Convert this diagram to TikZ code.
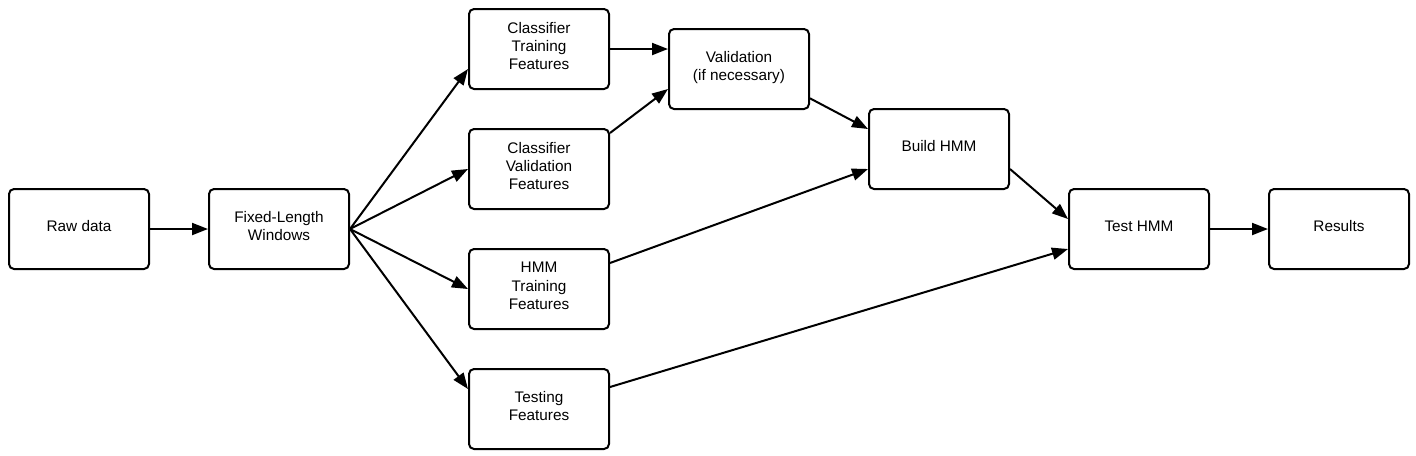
\documentclass[tikz,border=0pt]{standalone}
\usepackage{fontspec}
\setmainfont{Liberation Sans}
\usetikzlibrary{arrows.meta}
\tikzset{x=0.75pt, y=-0.75pt,
    stage/.style={draw, line width=1.5pt, rounded corners=3.75pt,
        minimum width=105pt, minimum height=60pt, inner sep=0pt,
        text depth=4.5pt, align=center,
        font=\fontsize{11.5}{13.75}\selectfont},
    flow/.style={line width=1.5pt, -{Triangle[length=12pt,width=9pt]}},
    }

\begin{document}
\begin{tikzpicture}
\useasboundingbox (0,0) rectangle (1416,455);
% stages
\node[stage] (raw) at (79,229) {Raw data};
\node[stage] (win) at (279,229) {Fixed-Length\\Windows};
\node[stage] (ctf) at (539,49) {Classifier\\Training\\Features};
\node[stage] (cvf) at (539,169) {Classifier\\Validation\\Features};
\node[stage] (htf) at (539,289) {HMM\\Training\\Features};
\node[stage] (tsf) at (539,409) {Testing\\Features};
\node[stage] (val) at (739,69) {Validation\\(if necessary)};
\node[stage] (bld) at (939,149) {Build HMM};
\node[stage] (tst) at (1139,229) {Test HMM};
\node[stage] (res) at (1339,229) {Results};
% connectors
\draw[flow] (raw) -- (win);
\draw[flow] (win.east) -- ([yshift=-15pt]ctf.west);
\draw[flow] (win.east) -- (cvf.west);
\draw[flow] (win.east) -- (htf.west);
\draw[flow] (win.east) -- ([yshift=15pt]tsf.west);
\draw[flow] (ctf.east) -- ([yshift=15pt]val.west);
\draw[flow] ([yshift=27pt]cvf.east) -- ([yshift=-15pt]val.west);
\draw[flow] ([yshift=-22pt]val.east) -- ([yshift=15pt]bld.west);
\draw[flow] ([yshift=19.5pt]htf.east) -- ([yshift=-15pt]bld.west);
\draw[flow] ([yshift=-15pt]bld.east) -- ([yshift=7.5pt]tst.west);
\draw[flow] ([yshift=16.5pt]tsf.east) -- ([yshift=-15pt]tst.west);
\draw[flow] (tst) -- (res);
\end{tikzpicture}
\end{document}
